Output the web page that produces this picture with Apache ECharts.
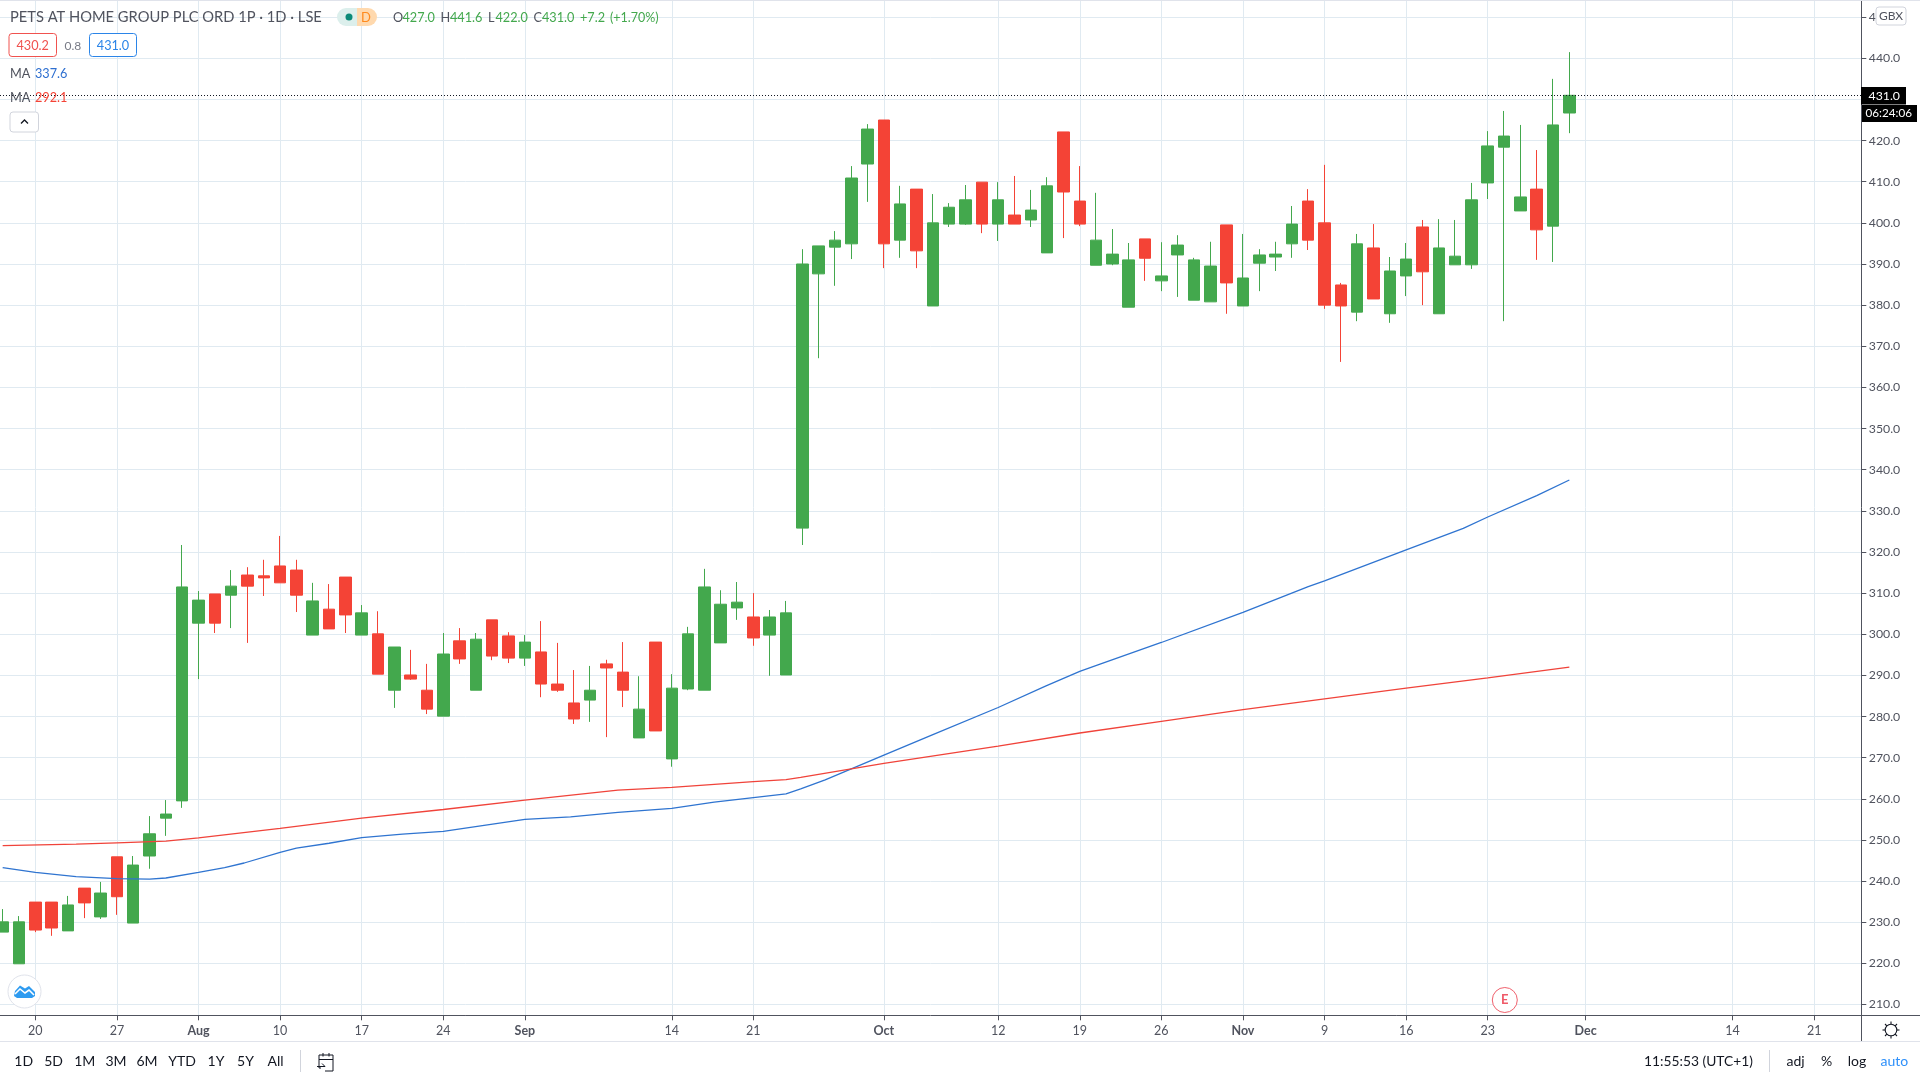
<!DOCTYPE html>
<html>
<head>
<meta charset="utf-8">
<style>html,body{margin:0;padding:0;background:#fff}#chart{width:1920px;height:1080px}</style>
<script src="https://cdn.jsdelivr.net/npm/echarts@6/dist/echarts.min.js"></script>
</head>
<body>
<div id="chart"></div>
<script>
const opens = [227.6,219.9,234.9,234.9,227.9,238.3,231.3,245.9,229.8,246.1,255.3,259.5,
302.7,309.8,309.5,314.4,314.2,316.6,315.6,299.8,306.1,313.9,299.8,300.1,286.4,290.1,
286.4,280.1,298.4,286.4,303.5,299.6,294.2,295.7,287.9,283.3,284.0,292.8,290.8,274.8,298.1,269.7,286.7,286.4,297.9,306.4,304.2,299.8,290.1,
325.8,387.6,394.1,394.9,414.3,425.0,395.8,408.2,379.8,399.7,399.7,409.9,399.7,401.9,400.7,392.7,422.1,405.3,389.7,390.0,379.5,396.1,385.9,392.2,
381.2,380.8,399.5,379.8,390.2,391.7,394.9,405.3,400.0,384.9,378.3,393.9,377.9,387.1,399.0,377.9,389.8,389.8,409.7,418.4,402.9,408.2,399.2,426.7];
const closes = [230.1,230.1,228.1,228.6,234.2,234.7,237.1,236.2,243.9,251.5,256.3,311.5,
308.3,302.7,311.7,311.7,313.7,312.5,309.5,308.1,301.3,304.7,305.2,290.3,296.9,289.1,
281.8,295.2,294.0,298.8,294.7,294.2,298.1,287.9,286.4,279.4,286.4,291.8,286.4,281.8,276.5,286.9,300.1,311.5,307.3,307.8,299.1,304.2,305.2,
390.0,394.4,395.8,410.9,422.8,394.9,404.6,393.2,400.0,403.8,405.6,399.7,405.6,399.7,403.1,409.0,407.5,399.7,395.8,392.4,391.0,391.4,387.1,394.6,
391.0,389.5,385.4,386.6,392.2,392.4,399.7,395.8,380.0,379.8,394.9,381.5,388.3,391.2,388.1,393.9,391.9,405.6,418.7,421.1,406.3,398.3,423.8,431.0];
const lows = [227.6,219.9,227.6,226.7,227.9,231.0,230.8,231.8,229.8,243.0,251.0,257.8,
289.1,300.3,301.5,297.9,309.3,312.5,305.4,299.8,301.3,300.3,299.8,290.3,282.1,288.9,
280.6,280.1,292.8,286.4,293.7,293.0,292.3,284.7,286.0,278.2,278.7,275.0,282.3,274.8,276.5,267.8,286.4,286.4,297.9,303.5,297.2,289.9,290.1,
321.7,367.1,384.7,391.2,405.1,389.0,391.5,389.0,379.8,399.0,399.5,397.5,395.6,399.7,399.0,392.7,396.3,399.2,389.7,389.7,379.5,385.9,383.4,382.0,
381.2,380.8,377.9,379.8,383.4,388.3,391.5,393.4,379.1,366.2,376.1,381.5,375.7,382.2,380.0,377.9,389.8,388.8,405.8,376.1,402.9,391.0,390.5,421.8];
const highs = [233.2,231.5,234.9,234.9,236.4,238.3,239.8,245.9,246.1,255.8,259.7,321.7,
310.5,309.8,315.6,316.3,318.1,323.9,318.1,312.5,312.2,313.9,307.1,305.6,296.9,296.2,
292.8,300.3,301.5,300.3,303.5,300.5,299.8,303.2,297.9,291.3,292.3,293.8,298.1,289.8,298.1,290.3,301.8,315.9,310.7,312.7,310.0,305.9,308.1,
393.6,394.4,398.0,413.8,424.0,425.0,409.0,408.2,407.0,404.8,409.2,409.9,409.9,411.4,408.0,411.1,422.1,413.8,407.3,398.5,395.1,396.1,395.3,397.0,
391.5,395.4,399.5,397.3,393.6,395.4,404.1,408.2,414.1,385.4,397.3,399.7,391.7,395.1,400.7,400.9,400.7,409.7,422.3,427.2,423.8,417.7,435.0,441.5];

const maBlueBar = [0,2,4.5,7,9,10,12,13.6,14.8,17,18,20,22,24.5,27,29.5,32,34.8,37.7,41,43.6,46,48,48.9,50.4,54,57,61,63.9,66,67.2,71,76,80,81,86,89.5,91,94,96];
const maBlueVal = [243.3,242.1,241.1,240.6,240.5,240.75,242.1,243.3,244.4,247,248,249.2,250.55,251.4,252.1,253.55,255,255.6,256.7,257.7,259.2,260.3,261.2,262.4,264.6,270.6,275.6,282.2,287.4,291,292.7,298,305.3,311.6,313,320.5,325.75,328.5,333.7,337.5];
const maRedBar = [0,4.5,7,10,12,17,22,27,32,37.7,41,46,48,48.9,54,61,66,71,76,81,86,91,96];
const maRedVal = [248.6,249,249.3,249.7,250.5,252.8,255.3,257.4,259.7,262.1,262.8,264.2,264.65,265.2,268.6,272.8,276,278.8,281.7,284.3,286.9,289.4,292];

const xTickBars = [2,7,12,17,22,27,32,41,46,54,61,66,71,76,81,86,91,97,106,111];
const xTickLabels = ['20','27','Aug','10','17','24','Sep','14','21','Oct','12','19','26','Nov','9','16','23','Dec','14','21'];
const priceTicks = [210,220,230,240,250,260,270,280,290,300,310,320,330,340,350,360,370,380,390,400,410,420,430,440,450];
const lastPrice = 431.0;
const title = 'PETS AT HOME GROUP PLC ORD 1P · 1D · LSE';
const rangeButtons = ['1D','5D','1M','3M','6M','YTD','1Y','5Y','All'];

const FONT = 'Lato';
const TXT = '#50535e';
const GREEN = '#43a84d';
const RED = '#f44336';
const candles = opens.map((o,i)=>[i,o,closes[i],lows[i],highs[i]]);
const zip = (a,b)=>a.map((x,i)=>[x,b[i]]);

function t(text,x,y,opt){
  opt = opt||{};
  return {type:'text',z:100,x:x,y:y+0.7,silent:true,style:{text:text,font:(opt.weight||'normal')+' '+(opt.size||12.7)+'px '+FONT,fill:opt.fill||TXT,align:opt.align||'left',verticalAlign:'middle'}};
}
function rr(x,y,w,h,stroke,fill,r){
  return {type:'rect',z:99,silent:true,shape:{x:x,y:y,width:w,height:h,r:r||0},style:{stroke:stroke,fill:fill||'#fff',lineWidth:1}};
}
function ln(x1,y1,x2,y2,c,w,z){
  return {type:'line',z:z||98,silent:true,shape:{x1:x1,y1:y1,x2:x2,y2:y2},style:{stroke:c,lineWidth:w||1}};
}
const hy=17;
const graphics = [
  ln(0,0.5,1920,0.5,'#e0e3eb'),
  ln(1861.5,1015,1861.5,1041,'#50535e'),
  ln(1861,1015.5,1920,1015.5,'#50535e'),
  ln(0,1041.5,1920,1041.5,'#e0e3eb'),
  t(title,10,hy,{size:14.7}),
  {type:'rect',z:99,silent:true,shape:{x:337,y:8,width:26,height:18,r:[9,0,0,9]},style:{fill:'#dcefec'}},
  {type:'rect',z:99,silent:true,shape:{x:357,y:8,width:20,height:18,r:[0,9,9,0]},style:{fill:'#ffd9ae'}},
  {type:'circle',z:100,silent:true,shape:{cx:349,cy:17,r:3.5},style:{fill:'#0b8a78'}},
  t('D',366,hy,{size:13,fill:'#ff8a1d',align:'center'}),
  t('O',393,hy), t('427.0',402.5,hy,{fill:GREEN}),
  t('H',440.5,hy), t('441.6',450,hy,{fill:GREEN}),
  t('L',488,hy), t('422.0',495.5,hy,{fill:GREEN}),
  t('C',533.5,hy), t('431.0',542,hy,{fill:GREEN}),
  t('+7.2',580,hy,{fill:GREEN}), t('(+1.70%)',610,hy,{fill:GREEN,size:12.5}),
  rr(9,33.5,47.5,23,'#f0524f','#fff',3), t('430.2',32.7,45,{fill:'#f0524f',align:'center'}),
  t('0.8',72.8,45,{size:12,align:'center',fill:'#787b86'}),
  rr(89.5,33.5,47,23,'#2b85e8','#fff',3), t('431.0',113,45,{fill:'#2b85e8',align:'center'}),
  t('MA',10,73.5), t('337.6',35,73.5,{fill:'#2e6fd0'}),
  t('MA',10,97), t('292.1',35,97,{fill:'#f44336'}),
  rr(10,112,28.5,20,'#d1d4dc','#fff',3),
  {type:'polyline',z:100,silent:true,shape:{points:[[21,123.5],[24.5,120],[28,123.5]]},style:{stroke:'#131722',lineWidth:1.3,fill:null}},
  {type:'circle',z:99,silent:true,shape:{cx:24.5,cy:991.5,r:16.5},style:{stroke:'#e0e3eb',fill:'#fff',lineWidth:1}},
  {type:'polygon',z:100,silent:true,shape:{points:[[14,996],[15,991],[20,985.5],[25,988.5],[29,986],[35,992],[35,996],[32,998],[17,998]]},style:{fill:'#2e9bf0'}},
  {type:'polyline',z:101,silent:true,shape:{points:[[15,994],[20,989],[25,993],[29,990],[34,995]]},style:{stroke:'#fff',lineWidth:1.6,fill:null}},
  rr(1876,7,30,18,'#d1d4dc','#fff',3), t('GBX',1891,15.5,{size:12,align:'center'}),
  {type:'rect',z:99,silent:true,shape:{x:1861,y:87,width:45,height:17.5},style:{fill:'#000'}},
  t(lastPrice.toFixed(1),1868.5,95.3,{fill:'#fff',size:12.3}),
  {type:'rect',z:99,silent:true,shape:{x:1862,y:105,width:55,height:17},style:{fill:'#000'}},
  t('06:24:06',1865.5,113,{fill:'#fff',size:11.7}),
  {type:'circle',z:99,silent:true,shape:{cx:1504.8,cy:1000,r:12.5},style:{stroke:'#f0616d',fill:'#fff',lineWidth:1}},
  t('E',1504.8,999.5,{fill:'#ef5a69',align:'center',size:13,weight:'bold'}),
  {type:'circle',z:100,silent:true,shape:{cx:1891,cy:1030,r:5.8},style:{stroke:'#131722',fill:'#fff',lineWidth:1.1}},
  ln(1891,1021.5,1891,1024,'#131722',1.1,100), ln(1891,1036,1891,1038.5,'#131722',1.1,100),
  ln(1882.5,1030,1885,1030,'#131722',1.1,100), ln(1897,1030,1899.5,1030,'#131722',1.1,100),
  ln(1885,1024,1886.8,1025.8,'#131722',1.1,100), ln(1897,1024,1895.2,1025.8,'#131722',1.1,100),
  ln(1885,1036,1886.8,1034.2,'#131722',1.1,100), ln(1897,1036,1895.2,1034.2,'#131722',1.1,100),
  ln(300.5,1050,300.5,1072,'#d1d4dc'),
  {type:'polyline',z:100,silent:true,shape:{points:[[321,1068],[319,1068],[319,1055],[333,1055],[333,1071],[325,1071]]},style:{stroke:'#131722',lineWidth:1,fill:null}},
  ln(319,1059.5,333,1059.5,'#131722'), ln(323,1053,323,1056.5,'#131722'), ln(329,1053,329,1056.5,'#131722'),
  {type:'polyline',z:100,silent:true,shape:{points:[[317,1066.5],[325,1066.5],[322,1063.5]]},style:{stroke:'#131722',lineWidth:1,fill:null}},
  ln(1769.5,1050,1769.5,1072,'#d1d4dc'),
  t('11:55:53 (UTC+1)',1644,1061,{size:13.8,fill:'#131722'}),
  t('adj',1795.5,1061,{size:14,fill:'#131722',align:'center'}),
  t('%',1826.7,1061,{size:14,fill:'#131722',align:'center'}),
  t('log',1857,1061,{size:14,fill:'#131722',align:'center'}),
  t('auto',1894.3,1061,{size:14,fill:'#2e90fa',align:'center'})
];
const btnX = [23.7,53.6,84.8,116,147,182,216,245.5,275.5];
rangeButtons.forEach((b,i)=>graphics.push(t(b,btnX[i],1061,{size:14,fill:'#131722',align:'center'})));

const chart = echarts.init(document.getElementById('chart'),null,{renderer:'canvas'});
chart.setOption({
  animation:false,
  backgroundColor:'#fff',
  textStyle:{fontFamily:FONT},
  grid:{left:0,right:58.7,top:0,bottom:64.7,containLabel:false},
  xAxis:{
    type:'value',min:-0.163,max:113.89,scale:true,
    axisLine:{show:true,onZero:false,lineStyle:{color:'#50535e'}},
    axisTick:{show:true,length:5,lineStyle:{color:TXT},customValues:xTickBars},
    axisLabel:{show:true,margin:9,fontSize:12.5,color:TXT,fontFamily:FONT,
      customValues:xTickBars,
      formatter:v=>{const s=xTickLabels[xTickBars.indexOf(v)];return /[A-Z]/.test(s)?'{b|'+s+'}':s;},
      rich:{b:{fontWeight:'bold',fontSize:12.5,color:TXT,fontFamily:FONT}}},
    splitLine:{show:true,lineStyle:{color:'#e0eaf1',width:1}}
  },
  yAxis:{
    type:'value',position:'right',min:207.38,max:454.17,scale:true,
    axisLine:{show:true,onZero:false,lineStyle:{color:'#50535e'}},
    axisTick:{show:true,length:5,lineStyle:{color:TXT},customValues:priceTicks},
    axisLabel:{show:true,margin:7.5,fontSize:12.3,color:TXT,fontFamily:FONT,padding:[3,0,0,0],customValues:priceTicks,formatter:v=>v.toFixed(1)},
    splitLine:{show:true,lineStyle:{color:'#e0eaf1',width:1}}
  },
  series:[
    {type:'candlestick',data:candles,encode:{x:0,y:[1,2,3,4]},barWidth:12,
      itemStyle:{color:GREEN,color0:RED,borderColor:GREEN,borderColor0:RED,borderWidth:1},
      markLine:{silent:true,symbol:'none',animation:false,label:{show:false},
        lineStyle:{color:'#131722',type:[1,2],width:1},data:[{yAxis:lastPrice}]}},
    {type:'line',data:zip(maBlueBar,maBlueVal),showSymbol:false,symbol:'none',lineStyle:{color:'#2f74d0',width:1.3},silent:true,z:3},
    {type:'line',data:zip(maRedBar,maRedVal),showSymbol:false,symbol:'none',lineStyle:{color:'#f0433a',width:1.3},silent:true,z:3}
  ],
  graphic:{elements:graphics}
});
</script>
</body>
</html>
